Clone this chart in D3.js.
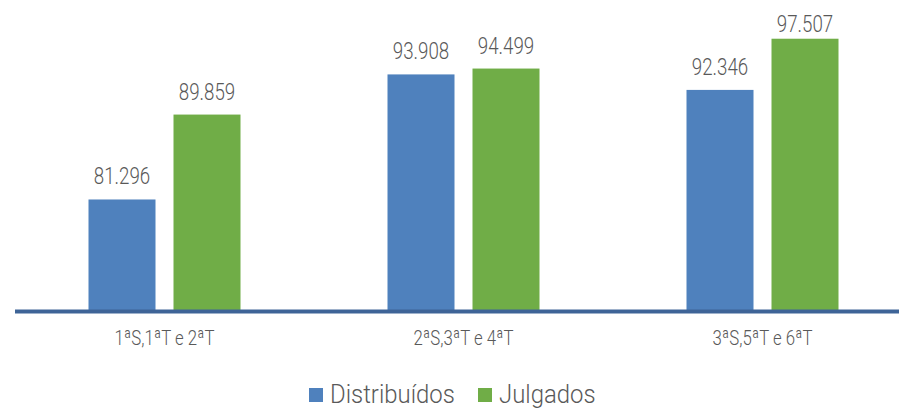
<!DOCTYPE html>
<html>
<head>
<meta charset="utf-8">
<script src="https://cdn.jsdelivr.net/npm/d3@7/dist/d3.min.js"></script>
<style>
  html, body { margin: 0; padding: 0; background: #fff; }
  svg { display: block; }
  text { font-family: Roboto, "Open Sans", sans-serif; font-weight: 300; fill: #595959; }
</style>
</head>
<body>
<svg id="chart" width="899" height="408"></svg>
<script>
// Chart data
const categories = ["1ªS,1ªT e 2ªT", "2ªS,3ªT e 4ªT", "3ªS,5ªT e 6ªT"];
const seriesNames = ["Distribuídos", "Julgados"];
const distribuidos = [81.296, 93.908, 92.346];
const julgados = [89.859, 94.499, 97.507];
const seriesColors = ["#4f81bd", "#70ad47"];

const svg = d3.select("#chart");
const W = 899, H = 408;
const plot = { left: 15, right: 912, top: 14, bottom: 311.5 };

// Category bands, and series positions inside each band
const x0 = d3.scaleBand().domain(categories).range([plot.left, plot.right]);
const groupWidth = 152;
const x1 = d3.scaleBand().domain(seriesNames).range([0, groupWidth]).paddingInner(18 / 85);
const y = d3.scaleLinear().domain([70, 100]).range([plot.bottom, plot.top]);

const values = [distribuidos, julgados];
const rows = categories.map((c, i) => ({ cat: c, vals: seriesNames.map((s, k) => ({ s, k, v: values[k][i] })) }));

const groups = svg.append("g").selectAll("g").data(rows).join("g")
  .attr("transform", d => `translate(${x0(d.cat) + (x0.bandwidth() - groupWidth) / 2},0)`);

groups.selectAll("rect").data(d => d.vals).join("rect")
  .attr("x", d => x1(d.s))
  .attr("y", d => y(d.v))
  .attr("width", x1.bandwidth())
  .attr("height", d => plot.bottom - y(d.v))
  .attr("fill", d => seriesColors[d.k]);

// Value labels above the bars (squeezed horizontally for a condensed look)
groups.selectAll("text.val").data(d => d.vals).join("text")
  .attr("class", "val")
  .attr("text-anchor", "middle")
  .attr("font-size", 24)
  .attr("transform", d => `translate(${x1(d.s) + x1.bandwidth() / 2},${Math.max(y(d.v) - 15, 31.5)}) scale(0.78,1)`)
  .text(d => d3.format(".3f")(d.v));

// Axis baseline
svg.append("line")
  .attr("x1", plot.left).attr("x2", W)
  .attr("y1", plot.bottom).attr("y2", plot.bottom)
  .attr("stroke", "#3e6497").attr("stroke-width", 4);

// Category labels
const xAxis = d3.axisBottom(x0).tickSize(0).tickPadding(0);
const ax = svg.append("g").attr("transform", `translate(0,${plot.bottom})`).call(xAxis);
ax.select(".domain").remove();
ax.selectAll(".tick text")
  .attr("y", 0).attr("dy", 0)
  .attr("font-size", 21)
  .attr("transform", "translate(0,33.5) scale(0.8,1)")
  .style("fill", "#595959");
ax.attr("font-family", null);

// Legend
const legend = svg.append("g");
const legendItems = [{ name: seriesNames[0], x: 309, color: seriesColors[0] }, { name: seriesNames[1], x: 478, color: seriesColors[1] }];
legendItems.forEach(it => {
  legend.append("rect").attr("x", it.x).attr("y", 388).attr("width", 14).attr("height", 14).attr("fill", it.color);
  legend.append("text")
    .attr("font-size", 26)
    .attr("transform", `translate(${it.x + 21},402.5) scale(0.92,1)`)
    .text(it.name);
});
</script>
</body>
</html>
